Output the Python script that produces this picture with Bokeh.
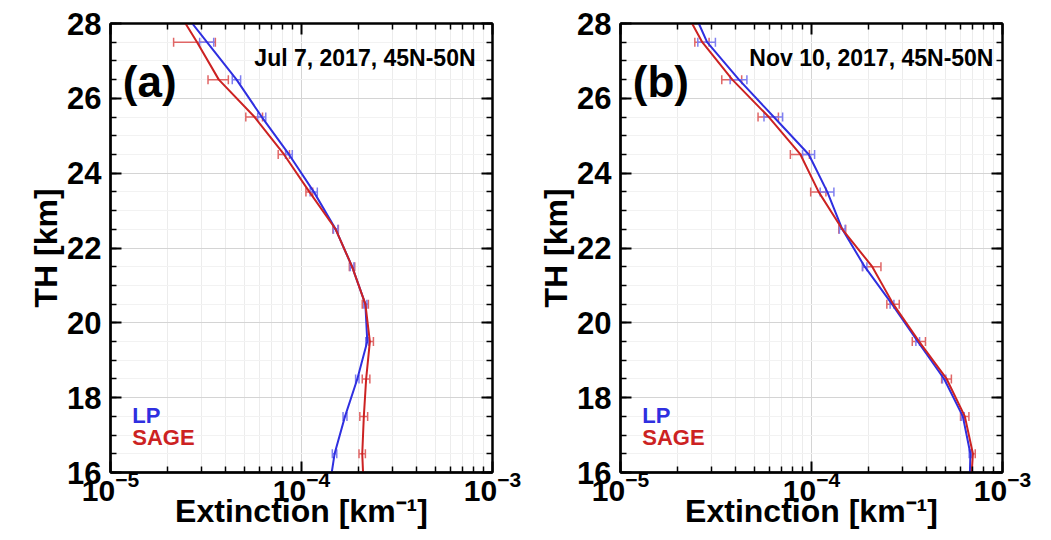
from bokeh.plotting import figure
from bokeh.models import (Range1d, FixedTicker, LogAxis, LinearAxis, Label,
                          Whisker, TeeHead, ColumnDataSource, LogTickFormatter)
from bokeh.layouts import row
from bokeh.embed import file_html
from bokeh.resources import INLINE

# ---------------- data ----------------
heights = [16, 16.5, 17.5, 18.5, 19.5, 20.5, 21.5, 22.5, 23.5, 24.5, 25.5, 26.5, 27.5, 28]

lp_a = [1.44e-4, 1.49e-4, 1.69e-4, 1.96e-4, 2.21e-4, 2.16e-4, 1.84e-4, 1.51e-4,
        1.16e-4, 8.6e-5, 6.2e-5, 4.57e-5, 3.2e-5, 2.68e-5]
sage_a = [2.1e-4, 2.08e-4, 2.12e-4, 2.18e-4, 2.28e-4, 2.16e-4, 1.84e-4, 1.51e-4,
          1.10e-4, 8.1e-5, 5.68e-5, 3.69e-5, 2.84e-5, 2.47e-5]
lp_a_err = [0, 4e-6, 4e-6, 4e-6, 4e-6, 4e-6, 4e-6, 4e-6, 5e-6, 3.5e-6, 3e-6, 2.3e-6, 2.7e-6, 0]
sage_a_err = [0, 8e-6, 1e-5, 1e-5, 1e-5, 8e-6, 6e-6, 5e-6, 4.5e-6, 5.5e-6, 5.7e-6, 4.5e-6, 7e-6, 0]

lp_b = [6.75e-4, 6.79e-4, 6.2e-4, 4.95e-4, 3.6e-4, 2.64e-4, 1.9e-4, 1.45e-4,
        1.21e-4, 9.68e-5, 6.35e-5, 4.17e-5, 2.84e-5, 2.57e-5]
sage_b = [6.9e-4, 7.0e-4, 6.35e-4, 5.1e-4, 3.66e-4, 2.68e-4, 2.08e-4, 1.45e-4,
          1.09e-4, 8.75e-5, 5.98e-5, 3.85e-5, 2.68e-5, 2.37e-5]
lp_b_err = [0, 1e-5, 1e-5, 1e-5, 8e-6, 6e-6, 5e-6, 5e-6, 1e-5, 7e-6, 7.1e-6, 4.2e-6, 3e-6, 0]
sage_b_err = [0, 2e-5, 3.2e-5, 3e-5, 2.9e-5, 2e-5, 2.3e-5, 6e-6, 1e-5, 1e-5, 7.3e-6, 4.6e-6, 2.3e-6, 0]

x_major = [1e-5, 1e-4, 1e-3]
x_minor = [m * 10.0 ** e for e in (-5, -4) for m in range(2, 10)]
y_major = [16, 18, 20, 22, 24, 26, 28]
y_minor = [16 + 0.5 * i for i in range(25)]

panel_tags = ["(a)", "(b)"]
panel_titles = ["Jul 7, 2017, 45N-50N", "Nov 10, 2017, 45N-50N"]
series_names = ["LP", "SAGE"]
x_label = "Extinction [km\u207b\u00b9]"
y_label = "TH [km]"

BLUE = "#2f2fe0"
RED = "#cc2222"
BLUE_E = "#7f7ff0"
RED_E = "#e06666"
FONT = "Liberation Sans"


def hide_labels(ax):
    ax.major_label_text_font_size = "1px"
    ax.major_label_text_alpha = 0
    ax.major_label_standoff = 0


def make_panel(tag, title, title_x, lp, sage, lp_err, sage_err, width, mb_left, mb_right):
    p = figure(width=width, height=540, x_axis_type="log",
               x_range=Range1d(1e-5, 1e-3), y_range=Range1d(16, 28),
               output_backend="svg", toolbar_location=None,
               min_border_left=mb_left, min_border_right=mb_right,
               min_border_top=23, min_border_bottom=68,
               background_fill_color="white", border_fill_color="white")
    p.outline_line_color = "black"
    p.outline_line_width = 2

    xt = FixedTicker(ticks=x_major, minor_ticks=x_minor)
    yt = FixedTicker(ticks=y_major, minor_ticks=y_minor)
    p.xaxis.ticker = xt
    p.yaxis.ticker = yt
    p.xgrid.ticker = xt
    p.ygrid.ticker = yt
    p.xgrid.grid_line_color = "#d4d4d4"
    p.ygrid.grid_line_color = "#d4d4d4"
    p.xgrid.minor_grid_line_color = "#ececec"
    p.ygrid.minor_grid_line_color = "#f2f2f2"

    for ax in (p.xaxis[0], p.yaxis[0]):
        ax.axis_line_width = 2.5
        ax.major_tick_in = 11
        ax.major_tick_out = 0
        ax.minor_tick_in = 6
        ax.minor_tick_out = 0
        ax.major_tick_line_width = 2
        ax.minor_tick_line_width = 1.5

    xa = p.xaxis[0]
    xa.formatter = LogTickFormatter()
    xa.major_label_text_font = FONT
    xa.major_label_text_font_style = "bold"
    xa.major_label_text_font_size = "30px"
    xa.major_label_text_color = "black"
    xa.major_label_standoff = -2
    xa.axis_label = x_label
    xa.axis_label_text_font = FONT
    xa.axis_label_text_font_style = "bold"
    xa.axis_label_text_font_size = "32px"
    xa.axis_label_text_color = "black"
    xa.axis_label_standoff = -11

    ya = p.yaxis[0]
    ya.major_label_text_font = FONT
    ya.major_label_text_font_style = "bold"
    ya.major_label_text_font_size = "31px"
    ya.major_label_text_color = "black"
    ya.major_label_standoff = 9
    ya.axis_label = y_label
    ya.axis_label_text_font = FONT
    ya.axis_label_text_font_style = "bold"
    ya.axis_label_text_font_size = "32px"
    ya.axis_label_text_color = "black"
    ya.axis_label_standoff = 0

    top = LogAxis(ticker=xt, major_tick_in=11, major_tick_out=0, minor_tick_in=6, minor_tick_out=0,
                  axis_line_width=2, major_tick_line_width=2, minor_tick_line_width=1.5)
    right = LinearAxis(ticker=yt, major_tick_in=11, major_tick_out=0, minor_tick_in=6, minor_tick_out=0,
                       axis_line_width=2, major_tick_line_width=2, minor_tick_line_width=1.5)
    hide_labels(top)
    hide_labels(right)
    p.add_layout(top, "above")
    p.add_layout(right, "right")

    # error bars
    for vals, errs, col in ((sage, sage_err, RED_E), (lp, lp_err, BLUE_E)):
        hh = [h for h, e in zip(heights, errs) if e > 0]
        lo = [v - e for v, e in zip(vals, errs) if e > 0]
        hi = [v + e for v, e in zip(vals, errs) if e > 0]
        src = ColumnDataSource(dict(h=hh, lo=lo, hi=hi))
        w = Whisker(base="h", lower="lo", upper="hi", dimension="width", source=src,
                    line_color=col, line_width=1.5,
                    upper_head=TeeHead(size=9, line_color=col, line_width=1.5),
                    lower_head=TeeHead(size=9, line_color=col, line_width=1.5))
        p.add_layout(w)

    p.line(lp, heights, line_color=BLUE, line_width=2)
    p.line(sage, heights, line_color=RED, line_width=2)

    # panel tag & title
    p.add_layout(Label(x=1.16e-5, y=26.45, text=tag, text_align="left",
                       text_baseline="alphabetic", text_font=FONT, text_font_style="bold",
                       text_font_size="44px", text_color="black"))
    p.add_layout(Label(x=title_x, y=27.09, text=title, text_align="right",
                       text_baseline="alphabetic", text_font=FONT, text_font_style="bold",
                       text_font_size="23px", text_color="black"))

    # legend texts
    p.add_layout(Label(x=1.3e-5, y=17.52, text=series_names[0], text_align="left",
                       text_baseline="alphabetic", text_font=FONT, text_font_style="bold",
                       text_font_size="22px", text_color=BLUE))
    p.add_layout(Label(x=1.3e-5, y=16.93, text=series_names[1], text_align="left",
                       text_baseline="alphabetic", text_font=FONT, text_font_style="bold",
                       text_font_size="22px", text_color=RED))
    return p


pa = make_panel(panel_tags[0], panel_titles[0], 8.15e-4, lp_a, sage_a, lp_a_err, sage_a_err, 525, 110, 33)
pb = make_panel(panel_tags[1], panel_titles[1], 8.97e-4, lp_b, sage_b, lp_b_err, sage_b_err, 526, 95, 49)

layout = row(pa, pb)
open("out.html", "w").write(file_html(layout, INLINE))
